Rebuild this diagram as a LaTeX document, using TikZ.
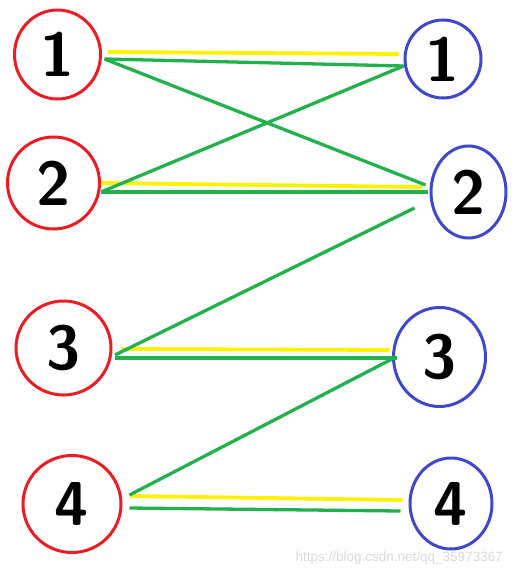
\documentclass[tikz,border=0pt]{standalone}
\usepackage{fontspec}
\usepackage{xcolor}
\usepackage{tikz}
\usetikzlibrary{shapes.geometric}
\newfontfamily\markfont{Liberation Sans}
\definecolor{paintred}{RGB}{237,28,36}
\definecolor{paintblue}{RGB}{63,72,204}
\definecolor{paintgreen}{RGB}{34,177,76}
\definecolor{paintyellow}{RGB}{255,242,0}

\begin{document}
\begin{tikzpicture}[
  x=1pt, y=-1pt,
  vert/.style={ellipse, line width=3pt, inner sep=0pt, font=\sffamily\bfseries\fontsize{62}{62}\selectfont},
  lnode/.style={vert, draw=paintred},
  rnode/.style={vert, draw=paintblue},
  match/.style={draw=paintyellow, line width=3.8pt},
  edge/.style={draw=paintgreen, line width=3.3pt}
]
\useasboundingbox (0,0) rectangle (513,575);
\node[lnode, minimum width=86pt, minimum height=89pt] (l1) at (57.5,54.5) {1};
\node[lnode, minimum width=92pt, minimum height=92pt] (l2) at (53.5,183) {2};
\node[lnode, minimum width=95pt, minimum height=94pt] (l3) at (63.5,348) {3};
\node[lnode, minimum width=98pt, minimum height=97pt] (l4) at (72,504) {4};
\node[rnode, minimum width=76pt, minimum height=78pt] (r1) at (443,59) {1};
\node[rnode, minimum width=75pt, minimum height=92pt] (r2) at (468.5,192) {2};
\node[rnode, minimum width=92pt, minimum height=99pt] (r3) at (439.5,357) {3};
\node[rnode, minimum width=82pt, minimum height=91pt] (r4) at (451,503.5) {4};
% matched pairs
\draw[match] ([xshift=6pt,yshift=2.5pt]l1.east) -- ([xshift=-5pt,yshift=5pt]r1.west);
\draw[match] (l2.east) -- ([xshift=-7pt,yshift=5pt]r2.west);
\draw[match] ([xshift=8.5pt,yshift=-1pt]l3.east) -- ([xshift=-2.5pt,yshift=7pt]r3.west);
\draw[match] ([xshift=8pt,yshift=8pt]l4.east) -- ([xshift=-6pt,yshift=3.5pt]r4.west);
% all edges
\draw[edge] ([xshift=2.5pt,yshift=-4.5pt]l1.east) -- ([yshift=-7pt]r1.west);
\draw[edge] ([xshift=2.5pt,yshift=-4.5pt]l1.east) -- ([xshift=-4pt,yshift=7pt]r2.west);
\draw[edge] ([yshift=-9pt]l2.east) -- ([yshift=-7pt]r1.west);
\draw[edge] ([yshift=-9pt]l2.east) -- ([xshift=-2pt]r2.west);
\draw[edge] ([xshift=2.5pt,yshift=-7pt]l3.east) -- ([xshift=-15pt,yshift=-16pt]r2.west);
\draw[edge] ([xshift=2pt,yshift=-10pt]l3.east) -- ([xshift=4.5pt,yshift=-1pt]r3.west);
\draw[edge] ([xshift=7pt,yshift=9pt]l4.east) -- ([yshift=-2pt]r3.west);
\draw[edge] ([xshift=7pt,yshift=-4pt]l4.east) -- ([xshift=-8pt,yshift=-7.5pt]r4.west);
\node[text=black!15, font=\markfont\fontsize{13.5}{14}\selectfont, anchor=base east, inner sep=0pt] (mark) at (503,561) {https://blog.csdn.net/qq\_35973367};
\end{tikzpicture}
\end{document}
